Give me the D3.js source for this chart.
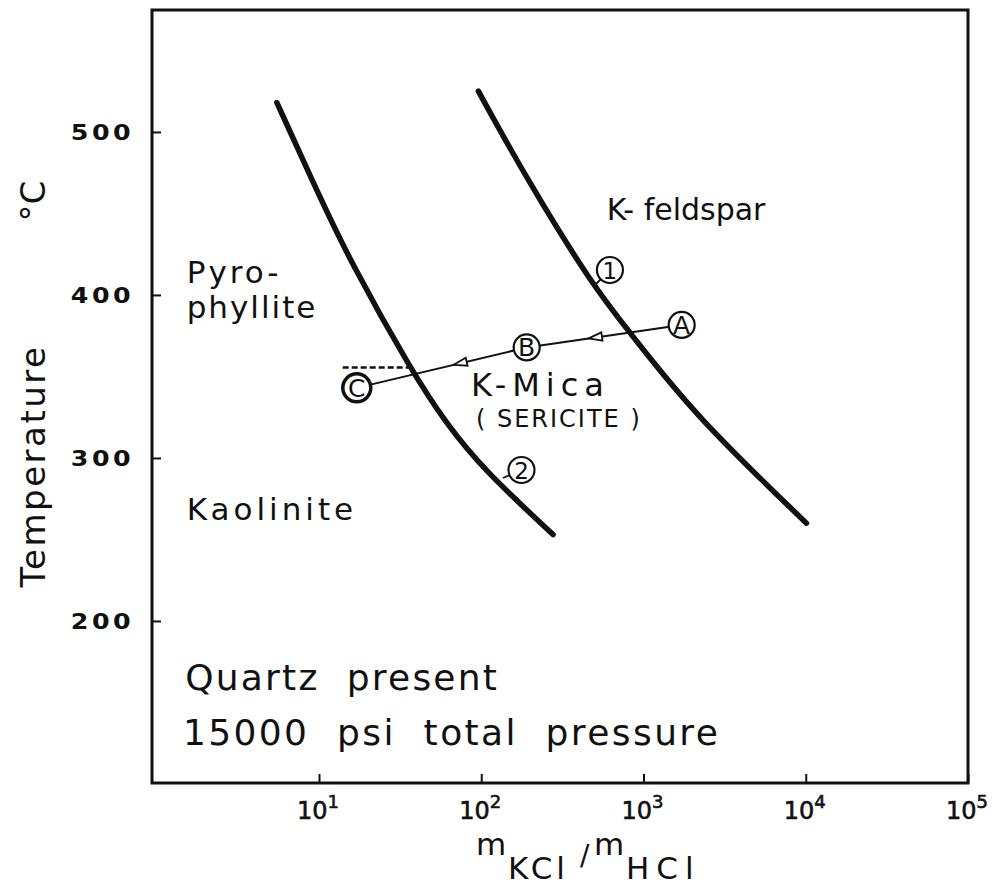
<!DOCTYPE html>
<html>
<head>
<meta charset="utf-8">
<script src="https://cdn.jsdelivr.net/npm/d3@7"></script>
<style>
  body { margin: 0; background: #fff; }
  svg { display: block; }
  text { font-family: "DejaVu Sans", sans-serif; fill: #111; }
</style>
</head>
<body>
<svg id="chart" width="1001" height="885"></svg>
<script>

// values (x = mKCl/mHCl, t = temperature in C)
var xTicks = [1e1, 1e2, 1e3, 1e4, 1e5];
var yTicks = [200, 300, 400, 500];

// K-mica / (pyrophyllite, kaolinite) boundary
var micaBoundary = [[5.5, 518], [9.7, 464], [15.5, 421], [37.9, 352], [61, 321], [103, 293], [277, 253]];
// K-feldspar / K-mica boundary
var feldsparBoundary = [[96, 525], [191, 471], [491, 405], [826, 377], [2028, 327], [10100, 260]];

// cooling path A -> B -> C
var pathIds = ["A", "B", "C"];
var pathX = [1719, 190.6, 17.1];
var pathT = [381.6, 367.8, 343];

// dashed extension from C up to the boundary
var dashedX = [14, 38];
var dashedT = [355.5, 355.5];

// numbered reactions on the curves: point on curve, circle position
var markIds = ["1", "2"];
var markOn = [[489, 405], [136, 287.7]];
var markAt = [[621, 415.3], [177, 292.6]];

// field names
var labelText = ["Pyro-", "phyllite", "K- feldspar", "K-Mica", "( SERICITE )", "Kaolinite", "Quartz  present", "15000  psi  total  pressure"];
var labelX = [1.53, 1.53, 594, 86.5, 92.8, 1.53, 1.5, 1.45];
var labelT = [407.4, 385.9, 446, 338, 319, 262, 157.7, 124];

var svg = d3.select("#chart");
var margin = {left: 152, top: 10, right: 33, bottom: 102};
var width = 1001 - margin.left - margin.right;
var height = 885 - margin.top - margin.bottom;

var x = d3.scaleLog().domain([0.935, 1e5]).range([margin.left, margin.left + width]);
var y = d3.scaleLinear().domain([100.6, 574.8]).range([margin.top + height, margin.top]);

// ticks (pointing inward)
svg.append("g")
    .attr("transform", `translate(0,${margin.top + height})`)
    .call(d3.axisBottom(x).tickValues(xTicks).tickSize(-9).tickFormat(""))
    .call(g => g.select(".domain").remove())
    .call(g => g.selectAll("line").attr("stroke", "#111").attr("stroke-width", 2));

svg.append("g")
    .attr("transform", `translate(${margin.left},0)`)
    .call(d3.axisLeft(y).tickValues(yTicks).tickSize(-9).tickFormat(""))
    .call(g => g.select(".domain").remove())
    .call(g => g.selectAll("line").attr("stroke", "#111").attr("stroke-width", 2));

// frame
svg.append("rect")
    .attr("x", margin.left).attr("y", margin.top)
    .attr("width", width).attr("height", height)
    .attr("fill", "none").attr("stroke", "#111").attr("stroke-width", 3);

// x tick labels 10^n
var xl = svg.append("g").selectAll("text")
    .data(xTicks)
    .enter()
    .append("text")
    .attr("x", d => x(d) - 22)
    .attr("y", 819)
    .attr("font-size", 24)
    .attr("stroke", "#111")
    .attr("stroke-width", 0.6);
xl.append("tspan").text("10");
xl.append("tspan")
    .text(d => Math.round(Math.log10(d)))
    .attr("font-size", 18)
    .attr("dy", -11);

// y tick labels (wide lettering)
svg.append("g").selectAll("text")
    .data(yTicks)
    .enter()
    .append("text")
    .attr("transform", d => `translate(134,${y(d) + 8}) scale(1.15,1)`)
    .attr("text-anchor", "end")
    .attr("font-size", 22)
    .attr("font-weight", "bold")
    .attr("letter-spacing", 3)
    .text(d => d);

// axis titles
var xt = svg.append("text").attr("y", 855).attr("font-size", 31);
xt.append("tspan").attr("x", 476).text("m");
xt.append("tspan").attr("x", 508).attr("dy", 24).attr("letter-spacing", 4).text("KCl");
xt.append("tspan").attr("x", 580).attr("dy", -14).attr("font-size", 28).text("/");
xt.append("tspan").attr("x", 594).attr("dy", -10).text("m");
xt.append("tspan").attr("x", 626).attr("dy", 24).attr("letter-spacing", 7).text("HCl");

svg.append("text")
    .attr("transform", "translate(45,466) rotate(-90)")
    .attr("text-anchor", "middle")
    .attr("font-size", 34)
    .attr("letter-spacing", 2.5)
    .text("Temperature");

svg.append("text")
    .attr("transform", "translate(45,201) rotate(-90)")
    .attr("text-anchor", "middle")
    .attr("font-size", 34)
    .text("°C");

// phase boundaries
var line = d3.line()
    .x(d => x(d[0]))
    .y(d => y(d[1]))
    .curve(d3.curveBasis);

svg.append("g").selectAll("path")
    .data([micaBoundary, feldsparBoundary])
    .enter()
    .append("path")
    .attr("d", line)
    .attr("fill", "none")
    .attr("stroke", "#111")
    .attr("stroke-width", 5.5)
    .attr("stroke-linecap", "round");

// dashed extension
svg.append("path")
    .attr("d", d3.line()(dashedX.map((d, i) => [x(d), y(dashedT[i])])))
    .attr("stroke", "#111")
    .attr("stroke-width", 2.5)
    .attr("stroke-dasharray", "6,3");

// path A-B-C
var pts = pathX.map((d, i) => [x(d), y(pathT[i])]);
svg.append("path")
    .attr("d", d3.line()(pts))
    .attr("fill", "none")
    .attr("stroke", "#111")
    .attr("stroke-width", 2);

// open arrowheads along the path
var arrowAt = [0.6, 0.43];
arrowAt.forEach(function(t, i){
  var p0 = pts[i], p1 = pts[i + 1];
  var px = p0[0] + (p1[0] - p0[0]) * t;
  var py = p0[1] + (p1[1] - p0[1]) * t;
  var a = Math.atan2(p1[1] - p0[1], p1[0] - p0[0]);
  var back = a + Math.PI, len = 14, spread = 0.3;
  var w1 = [px + len * Math.cos(back - spread), py + len * Math.sin(back - spread)];
  var w2 = [px + len * Math.cos(back + spread), py + len * Math.sin(back + spread)];
  svg.append("path")
      .attr("d", `M${w1}L${px},${py}L${w2}Z`)
      .attr("fill", "#fff")
      .attr("stroke", "#111")
      .attr("stroke-width", 1.8);
});

var pg = svg.append("g").selectAll("g")
    .data(pathIds)
    .enter()
    .append("g")
    .attr("transform", (d, i) => `translate(${pts[i][0]},${pts[i][1]})`);
pg.append("circle")
    .attr("r", d => d == "C" ? 14 : 13)
    .attr("fill", "#fff")
    .attr("stroke", "#111")
    .attr("stroke-width", d => d == "C" ? 3.5 : 2.2);
pg.append("text")
    .attr("text-anchor", "middle")
    .attr("dy", 9)
    .attr("font-size", 25)
    .text(d => d);

// numbered points
var mg = svg.append("g").selectAll("g")
    .data(markIds)
    .enter()
    .append("g");
mg.append("line")
    .attr("x1", (d, i) => x(markOn[i][0]))
    .attr("y1", (d, i) => y(markOn[i][1]))
    .attr("x2", (d, i) => x(markAt[i][0]))
    .attr("y2", (d, i) => y(markAt[i][1]))
    .attr("stroke", "#111")
    .attr("stroke-width", 1.8);
mg.append("circle")
    .attr("cx", (d, i) => x(markAt[i][0]))
    .attr("cy", (d, i) => y(markAt[i][1]))
    .attr("r", 13)
    .attr("fill", "#fff")
    .attr("stroke", "#111")
    .attr("stroke-width", 2.2);
mg.append("text")
    .attr("x", (d, i) => x(markAt[i][0]))
    .attr("y", (d, i) => y(markAt[i][1]) + 8.5)
    .attr("text-anchor", "middle")
    .attr("font-size", 23)
    .text(d => d);

// field labels
var labelSize = [31, 31, 30, 32, 24, 31, 36, 36];
var labelSpacing = [3, 2, 0, 6, 2, 4, 2.2, 2.4];
svg.append("g").selectAll("text")
    .data(labelText)
    .enter()
    .append("text")
    .attr("x", (d, i) => x(labelX[i]))
    .attr("y", (d, i) => y(labelT[i]))
    .attr("font-size", (d, i) => labelSize[i])
    .attr("letter-spacing", (d, i) => labelSpacing[i])
    .style("white-space", "pre")
    .text(d => d);

</script>
</body>
</html>
